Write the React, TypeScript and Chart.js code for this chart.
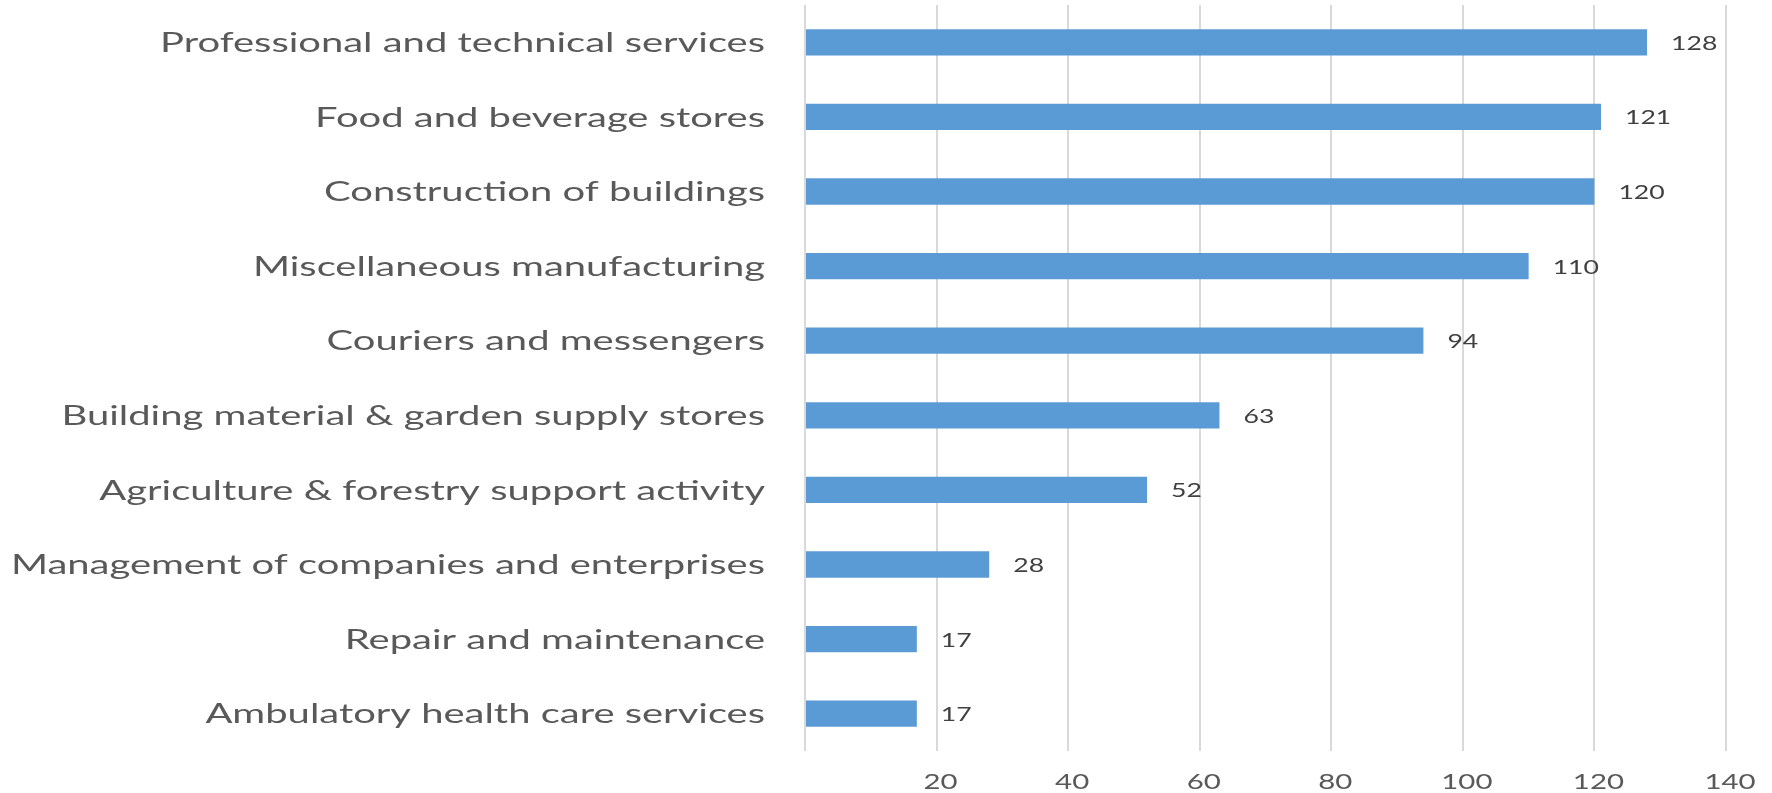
import { useEffect, useRef } from 'react';
import { Chart, registerables } from 'chart.js';

Chart.register(...registerables);

const categories = [
  'Professional and technical services',
  'Food and beverage stores',
  'Construction of buildings',
  'Miscellaneous manufacturing',
  'Couriers and messengers',
  'Building material & garden supply stores',
  'Agriculture & forestry support activity',
  'Management of companies and enterprises',
  'Repair and maintenance',
  'Ambulatory health care services',
];
const values = [128, 121, 120, 110, 94, 63, 52, 28, 17, 17];
const xTickLabels = [20, 40, 60, 80, 100, 120, 140];

const FONT = 'Lato, "Open Sans", sans-serif';
const CAT_STRETCH = 1.48;
const TICK_STRETCH = 1.4;
const VAL_STRETCH = 1.33;

function drawStretched(
  ctx: CanvasRenderingContext2D,
  text: string,
  x: number,
  y: number,
  sx: number,
  align: CanvasTextAlign,
  font: string,
  color: string
) {
  ctx.save();
  ctx.translate(x, y);
  ctx.scale(sx, 1);
  ctx.font = font;
  ctx.fillStyle = color;
  ctx.textAlign = align;
  ctx.textBaseline = 'middle';
  ctx.fillText(text, 0, 0);
  ctx.restore();
}

const textPlugin = {
  id: 'stretchedText',
  afterDatasetsDraw(chart: any) {
    const ctx: CanvasRenderingContext2D = chart.ctx;
    const xs = chart.scales.x;
    const ys = chart.scales.y;
    categories.forEach((c, i) => {
      const y = ys.getPixelForValue(i);
      drawStretched(ctx, c, ys.right - 40, y + 1, CAT_STRETCH, 'right', `27px ${FONT}`, '#595959');
      const v = values[i];
      drawStretched(ctx, String(v), xs.getPixelForValue(v) + 24, y + 1, VAL_STRETCH, 'left', `20px ${FONT}`, '#404040');
    });
    xTickLabels.forEach((t) => {
      drawStretched(ctx, String(t), xs.getPixelForValue(t) + 4, xs.top + 31, TICK_STRETCH, 'center', `21px ${FONT}`, '#595959');
    });
  },
};

export default function App() {
  const ref = useRef<HTMLCanvasElement | null>(null);
  useEffect(() => {
    document.body.style.margin = '0';
    const canvas = ref.current;
    if (!canvas) return;
    const chart = new Chart(canvas, {
      type: 'bar',
      data: {
        labels: categories,
        datasets: [
          {
            data: values,
            backgroundColor: '#5B9BD5',
            borderWidth: 0,
            categoryPercentage: 1,
            barPercentage: 0.353,
          },
        ],
      },
      options: {
        indexAxis: 'y',
        animation: false,
        responsive: false,
        devicePixelRatio: 1,
        layout: { padding: { top: 5, right: 46, left: 0, bottom: 0 } },
        plugins: {
          legend: { display: false },
          tooltip: { enabled: false },
        },
        scales: {
          x: {
            type: 'linear',
            min: 0,
            max: 140,
            ticks: { stepSize: 20, display: false },
            grid: { color: '#D9D9D9', lineWidth: 2, drawTicks: false },
            border: { display: false },
            afterFit: (s: any) => {
              s.height = 42;
            },
          },
          y: {
            type: 'category',
            ticks: { display: false },
            grid: { display: false },
            border: { display: false },
            afterFit: (s: any) => {
              s.width = 805;
            },
          },
        },
      },
      plugins: [textPlugin],
    });
    return () => chart.destroy();
  }, []);
  return (
    <div style={{ width: 1772, height: 793 }}>
      <canvas ref={ref} width={1772} height={793} style={{ display: 'block' }} />
    </div>
  );
}
